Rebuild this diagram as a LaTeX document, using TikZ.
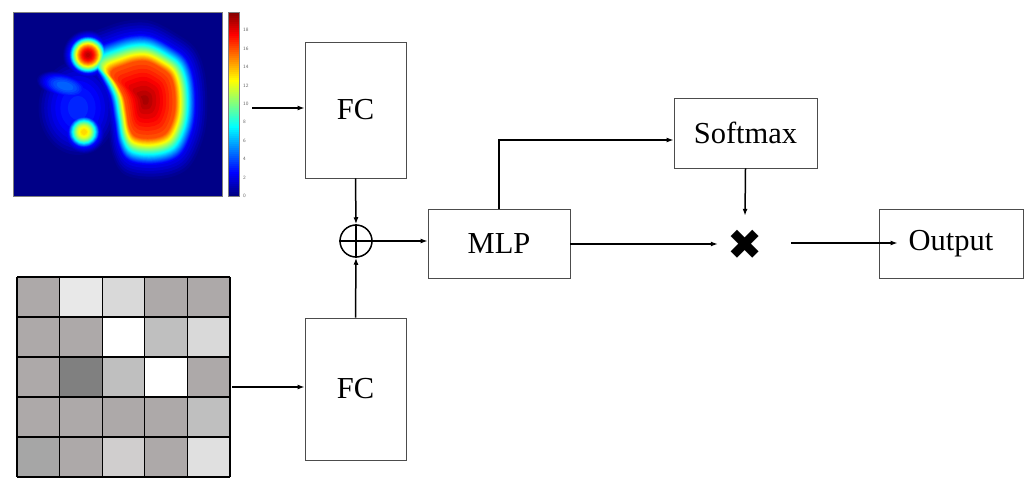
\documentclass[tikz,border=0pt]{standalone}
\usepackage{fontspec}
\setmainfont{Liberation Serif}
\newfontfamily\symfont{DejaVu Sans}
\usetikzlibrary{arrows.meta}
\definecolor{gA}{RGB}{173,169,169}
\definecolor{gB}{RGB}{232,232,232}
\definecolor{gC}{RGB}{217,217,217}
\definecolor{gD}{RGB}{191,191,191}
\definecolor{gE}{RGB}{128,128,128}
\definecolor{gF}{RGB}{166,166,166}
\definecolor{gG}{RGB}{208,206,206}
\definecolor{gH}{RGB}{224,224,224}
\definecolor{gW}{RGB}{255,255,255}
\definecolor{jetbg}{rgb}{0,0,0.53}
\tikzset{
  box/.style={draw=black!70, line width=0.8pt, fill=white, inner sep=0pt,
    font=\fontsize{30.5}{36}\selectfont},
  arr/.style={line width=1.5pt, -{Latex[length=7pt,width=5pt]}},
  cell/.style={draw=black, line width=1.2pt},
  ticklab/.style={anchor=west, inner sep=0pt, text=black!60, font=\fontsize{5}{5}\selectfont\sffamily},
  frame/.style={draw=black!50, line width=0.5pt}
}
\begin{document}
\begin{tikzpicture}[x=1pt,y=-1pt]
\useasboundingbox (0,0) rectangle (1024,478);
% ---------------- heat map ----------------
\begin{scope}
\clip (13,12) rectangle (222,196);
\fill[jetbg] (13,12) rectangle (222,196);
\foreach \i in {1,...,49}{
  \pgfmathsetmacro\tv{0.02*\i}
  \pgfmathsetmacro\jr{max(0,min(1,1.5-abs(4*\tv-3)))}
  \pgfmathsetmacro\jg{max(0,min(1,1.5-abs(4*\tv-2)))}
  \pgfmathsetmacro\jb{max(0,min(1,1.5-abs(4*\tv-1)))}
  \definecolor{lev}{rgb}{\jr,\jg,\jb}
  \pgfmathsetmacro\tail{40*max(0,0.15-\tv)}
  \pgfmathsetmacro\sbig{\tv<0.8 ? 0.92+0.9*(0.8-\tv)+max(0,2.5*(0.125-\tv)) : (\tv<0.9 ? 0.92-4.7*(\tv-0.8) : 0.45-5.6*(\tv-0.9))}
  \pgfmathsetmacro\rtl{20*sqrt(max(0,1-\tv/0.95))+\tail}
  \pgfmathsetmacro\rbl{17*sqrt(max(0,1-\tv/0.68))+\tail}
  \pgfmathsetmacro\rax{30*sqrt(max(0,1-\tv/0.24))}
  \pgfmathsetmacro\ray{14*sqrt(max(0,1-\tv/0.24))}
  \pgfmathsetmacro\rbx{42*sqrt(max(0,1-\tv/0.17))}
  \pgfmathsetmacro\rby{50*sqrt(max(0,1-\tv/0.17))}
  \ifdim\rbx pt>0.3pt \fill[lev] (78,108) ellipse[x radius=\rbx, y radius=\rby]; \fi
  \ifdim\rax pt>0.3pt \fill[lev,rotate around={-15:(65,86)}] (65,86) ellipse[x radius=\rax, y radius=\ray]; \fi
  \ifdim\sbig pt>0.02pt
    \fill[lev,shift={(145,100)},scale=\sbig] plot[smooth cycle,tension=0.6] coordinates{
      (-10,-42) (3,-42) (17,-35) (27,-27) (32,-13) (33,7) (30,23) (22,37) (7,42)
      (-10,40) (-17,30) (-20,13) (-23,-3) (-30,-17) (-37,-27) (-35,-33) (-23,-38)};
  \fi
  \ifdim\rtl pt>0.3pt \fill[lev] (88,55) circle[radius=\rtl]; \fi
  \ifdim\rbl pt>0.3pt \fill[lev] (84,132) circle[radius=\rbl]; \fi
}
\end{scope}
\draw[frame] (13,12) rectangle (222,196);
% colour bar
\foreach \j in {0,...,91}{
  \pgfmathsetmacro\tv{(\j+0.5)/92}
  \pgfmathsetmacro\jr{max(0,min(1,1.5-abs(4*\tv-3)))}
  \pgfmathsetmacro\jg{max(0,min(1,1.5-abs(4*\tv-2)))}
  \pgfmathsetmacro\jb{max(0,min(1,1.5-abs(4*\tv-1)))}
  \definecolor{lev}{rgb}{\jr,\jg,\jb}
  \fill[lev] (228,{196-2*\j+0.3}) rectangle (239,{196-2*\j-2.3});
}
\draw[frame] (228,12) rectangle (239,196);
\foreach \v in {0,2,...,18}{
  \node[ticklab] (tk\v) at (243,{196-9.22*\v}) {\v};
}
% ---------------- grid ----------------
\foreach \cx/\cy/\cc in {0/0/gA,1/0/gB,2/0/gC,3/0/gA,4/0/gA,
                         0/1/gA,1/1/gA,2/1/gW,3/1/gD,4/1/gC,
                         0/2/gA,1/2/gE,2/2/gD,3/2/gW,4/2/gA,
                         0/3/gA,1/3/gA,2/3/gA,3/3/gA,4/3/gD,
                         0/4/gF,1/4/gA,2/4/gG,3/4/gA,4/4/gH}{
  \fill[\cc] ({17+42.6*\cx},{277+40*\cy}) rectangle ({17+42.6*(\cx+1)},{277+40*(\cy+1)});
}
\foreach \k in {0,...,5}{
  \draw[cell] ({17+42.6*\k},277) -- ({17+42.6*\k},477);
  \draw[cell] (17,{277+40*\k}) -- (230,{277+40*\k});
}
% ---------------- blocks ----------------
\node[box, minimum width=101pt, minimum height=136pt] (fc1) at (355.5,110) {FC};
\node[box, minimum width=101pt, minimum height=142pt] (fc2) at (355.5,389) {FC};
\node[draw=black, line width=1.5pt, circle, minimum size=32pt, inner sep=0pt] (op) at (356,241) {};
\draw[line width=1.5pt] (op.north) -- (op.south) (op.west) -- (op.east);
\node[box, minimum width=142pt, minimum height=69pt] (mlp) at (499,243.5) {MLP};
\node[box, minimum width=143pt, minimum height=70pt] (sm) at (745.5,133) {Softmax};
\node[box, minimum width=144pt, minimum height=69pt] (out) at (951,243.5) {Output};
\node[inner sep=0pt, minimum width=54pt, minimum height=58pt, font=\symfont\bfseries\fontsize{42}{42}\selectfont] (mul) at (745,245) {✖};
% ---------------- connectors ----------------
\coordinate (hmout) at (252,108);
\coordinate (gridout) at (232,387);
\draw[arr] (hmout) -- (hmout -| fc1.west);
\draw[arr] (gridout) -- (gridout -| fc2.west);
\draw[arr] (fc1.south) -- (op.north);
\draw[arr] (fc2.north) -- (op.south);
\draw[arr] (op.east) -- (op.east -| mlp.west);
\draw[arr] (mlp.north) |- ([yshift=-7pt]sm.west);
\draw[arr] ([yshift=-0.5pt]mlp.east) -- ([yshift=-0.5pt]mlp.east -| mul.west);
\draw[arr] (sm.south) -- (mul.north);
\draw[arr] ([xshift=19pt,yshift=2pt]mul.east) -- ([xshift=19pt,yshift=2pt]mul.east -| out.west);
\end{tikzpicture}
\end{document}
